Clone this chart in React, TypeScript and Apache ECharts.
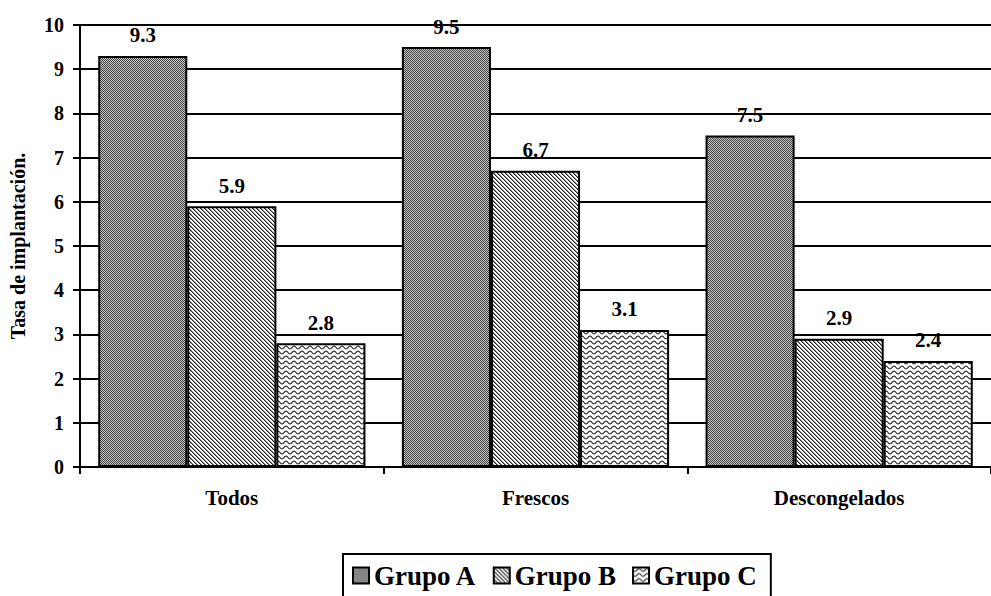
import React, { useEffect, useRef } from "react";
import * as echarts from "echarts";

const categories = ["Todos", "Frescos", "Descongelados"];
const seriesNames = ["Grupo A", "Grupo B", "Grupo C"];
const grupoA = [9.3, 9.5, 7.5];
const grupoB = [5.9, 6.7, 2.9];
const grupoC = [2.8, 3.1, 2.4];
const yTicks = { min: 0, max: 10, interval: 1 };

const FONT = "Liberation Serif";

function makeCanvas(w: number, h: number, draw: (ctx: CanvasRenderingContext2D) => void) {
  const c = document.createElement("canvas");
  c.width = w;
  c.height = h;
  const ctx = c.getContext("2d")!;
  draw(ctx);
  return c;
}

export default function App() {
  const ref = useRef<HTMLDivElement>(null);
  useEffect(() => {
    if (!ref.current) return;
    const chart = echarts.init(ref.current, null, { renderer: "svg" });

    const patA = makeCanvas(2, 2, (ctx) => {
      ctx.fillStyle = "#4a4a4a";
      ctx.fillRect(0, 0, 2, 2);
      ctx.fillStyle = "#c0c0c0";
      ctx.fillRect(1, 0, 1, 1);
      ctx.fillRect(0, 1, 1, 1);
    });
    const patB = makeCanvas(4, 4, (ctx) => {
      ctx.fillStyle = "#ffffff";
      ctx.fillRect(0, 0, 4, 4);
      ctx.fillStyle = "#222222";
      for (let i = 0; i < 4; i++) ctx.fillRect(i, i, 1, 1);
      ctx.fillStyle = "#888888";
      for (let i = 0; i < 4; i++) ctx.fillRect((i + 1) % 4, i, 1, 1);
    });
    const patC = makeCanvas(8, 5, (ctx) => {
      ctx.fillStyle = "#ffffff";
      ctx.fillRect(0, 0, 8, 5);
      ctx.strokeStyle = "#333333";
      ctx.lineWidth = 1.2;
      ctx.beginPath();
      for (let x = 0; x <= 8; x += 0.5) {
        const y = 2.5 + 1.4 * Math.sin((x / 8) * Math.PI * 2);
        if (x === 0) ctx.moveTo(x, y);
        else ctx.lineTo(x, y);
      }
      ctx.stroke();
    });

    const pats = [patA, patB, patC];
    const datas = [grupoA, grupoB, grupoC];

    chart.setOption({
      animation: false,
      textStyle: { fontFamily: FONT },
      grid: { left: 79, top: 25, width: 918, height: 442, containLabel: false },
      legend: {
        left: 343,
        top: 554,
        data: seriesNames,
        itemWidth: 16,
        itemHeight: 16,
        itemGap: 16,
        borderColor: "#000",
        borderWidth: 2,
        padding: [8, 14, 14, 9],
        icon: "rect",
        textStyle: { fontFamily: FONT, fontSize: 27, fontWeight: "bold", color: "#000" },
      },
      xAxis: {
        type: "category",
        data: categories,
        axisLine: { lineStyle: { color: "#000", width: 2 } },
        axisTick: { show: true, length: 7, lineStyle: { color: "#000", width: 2 } },
        axisLabel: { fontFamily: FONT, fontSize: 21, fontWeight: "bold", color: "#000", margin: 20 },
      },
      yAxis: {
        type: "value",
        min: yTicks.min,
        max: yTicks.max,
        interval: yTicks.interval,
        name: "Tasa de implantación.",
        nameLocation: "middle",
        nameGap: 52,
        nameRotate: 90,
        nameTextStyle: { fontFamily: FONT, fontSize: 20, fontWeight: "bold", color: "#000" },
        axisLine: { show: true, lineStyle: { color: "#000", width: 2 } },
        axisTick: { show: true, length: 7, lineStyle: { color: "#000", width: 2 } },
        axisLabel: { fontFamily: FONT, fontSize: 20, fontWeight: "bold", color: "#000", margin: 16 },
        splitLine: { show: true, lineStyle: { color: "#000", width: 2 } },
      },
      series: seriesNames.map((name, i) => ({
        name,
        type: "bar",
        data: datas[i],
        barGap: "0%",
        barCategoryGap: "12%",
        itemStyle: {
          color: { image: pats[i], repeat: "repeat" },
          borderColor: "#000",
          borderWidth: 2,
        },
        label: {
          show: true,
          position: "top",
          distance: 10,
          fontFamily: FONT,
          fontSize: 21,
          fontWeight: "bold",
          color: "#000",
          formatter: (p: any) => p.value.toFixed(1),
        },
      })),
    });
    return () => chart.dispose();
  }, []);
  return <div ref={ref} style={{ width: 991, height: 596, position: "absolute", left: 0, top: 0 }} />;
}
